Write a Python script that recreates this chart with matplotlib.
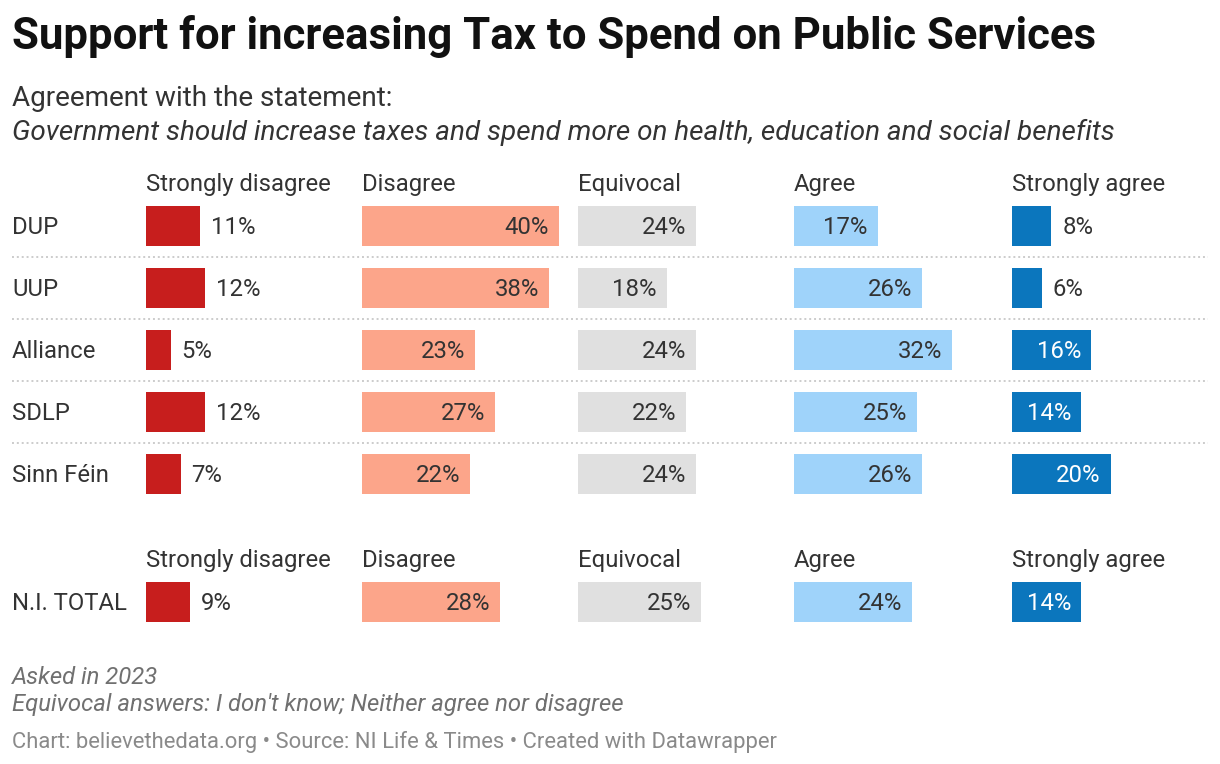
import matplotlib.pyplot as plt
import matplotlib.transforms as mtransforms

plt.rcParams['font.family'] = ['Roboto', 'DejaVu Sans']

# Data
parties = ["DUP", "UUP", "Alliance", "SDLP", "Sinn Féin"]
categories = ["Strongly disagree", "Disagree", "Equivocal", "Agree", "Strongly agree"]
strongly_disagree = [11, 12, 5, 12, 7]
disagree = [40, 38, 23, 27, 22]
equivocal = [24, 18, 24, 22, 24]
agree = [17, 26, 32, 25, 26]
strongly_agree = [8, 6, 16, 14, 20]
total_label = "N.I. TOTAL"
total = [9, 28, 25, 24, 14]

colors = ["#c71e1d", "#fca58a", "#e0e0e0", "#9fd3fa", "#0b76bd"]
inside_text = ["#333333", "#333333", "#333333", "#333333", "#ffffff"]

W, H = 1220, 764
fig = plt.figure(figsize=(W / 100, H / 100), dpi=100)

# background axes in pixel units for texts and rules
bg = fig.add_axes([0, 0, 1, 1])
bg.set_xlim(0, W)
bg.set_ylim(H, 0)
bg.axis("off")

TXT = "#333333"
FS = 17.2
bg.text(12, 37, "Support for increasing Tax to Spend on Public Services",
        fontsize=31.5, fontweight="bold", color="#111111", va="center")
bg.text(12, 99, "Agreement with the statement:", fontsize=20.1, color=TXT, va="center")
bg.text(12, 132, "Government should increase taxes and spend more on health, education and social benefits",
        fontsize=20.1, style="italic", color=TXT, va="center")

col_x = [146, 362, 578, 794, 1012]
col_w = 216
px_per_pct = 4.93
row_h = 62
bar_h = 40

def px_axes(x0, y0, w, h):
    return fig.add_axes([x0 / W, 1 - (y0 + h) / H, w / W, h / H])

def draw_section(header_y, first_row_y, labels, columns):
    n = len(labels)
    for j, cat in enumerate(categories):
        bg.text(col_x[j], header_y + 2, cat, fontsize=FS, color=TXT, va="center")
    for i, lab in enumerate(labels):
        bg.text(12, first_row_y + i * row_h + 1, lab, fontsize=FS, color=TXT, va="center")
    top = first_row_y - row_h / 2
    for j, vals in enumerate(columns):
        ax = px_axes(col_x[j], top, col_w, n * row_h)
        ax.set_xlim(0, col_w / px_per_pct)
        ax.set_ylim(n - 0.5, -0.5)
        ax.axis("off")
        ax.barh(range(n), vals, height=bar_h / row_h, color=colors[j], linewidth=0)
        for i, v in enumerate(vals):
            if v >= 13:
                off = mtransforms.offset_copy(ax.transData, fig=fig, x=-10, y=-1, units="dots")
                ax.text(v, i, f"{v}%", transform=off, ha="right", va="center",
                        fontsize=FS, color=inside_text[j])
            else:
                off = mtransforms.offset_copy(ax.transData, fig=fig, x=11, y=-1, units="dots")
                ax.text(v, i, f"{v}%", transform=off, ha="left", va="center",
                        fontsize=FS, color=TXT)
    for i in range(n - 1):
        y = first_row_y + (i + 0.5) * row_h
        bg.plot([12, 1208], [y, y], linestyle=(0, (1, 1.5)), color="#cccccc", lw=1.4)

draw_section(182, 226, parties, [strongly_disagree, disagree, equivocal, agree, strongly_agree])
draw_section(558, 602, [total_label], [[v] for v in total])

bg.text(12, 677, "Asked in 2023", fontsize=17.2, style="italic", color="#707070", va="center")
bg.text(12, 705, "Equivocal answers: I don't know; Neither agree nor disagree",
        fontsize=17.2, style="italic", color="#707070", va="center")
bg.text(12, 742, "Chart: believethedata.org \u2022 Source: NI Life & Times \u2022 Created with Datawrapper",
        fontsize=15.8, color="#8a8a8a", va="center")

fig.savefig("out.png", dpi=100, facecolor="white")
